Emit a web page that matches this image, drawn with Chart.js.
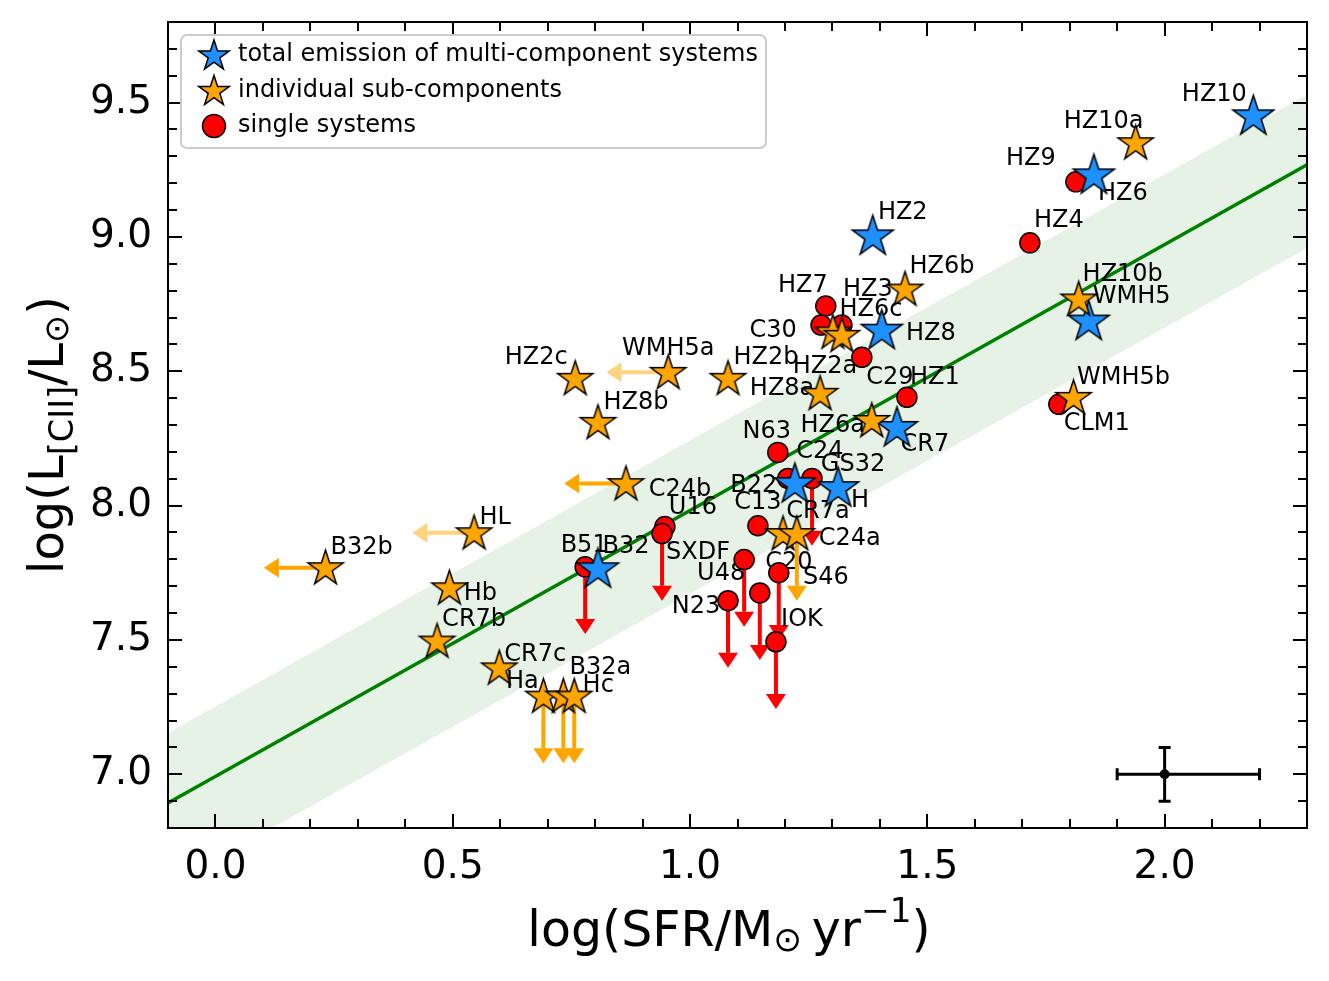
<!DOCTYPE html>
<html>
<head>
<meta charset="utf-8">
<script src="https://cdn.jsdelivr.net/npm/chart.js@4.4.1/dist/chart.umd.min.js"></script>
<style>
  body { margin: 0; background: #fff; }
  canvas { display: block; }
</style>
</head>
<body>
<canvas id="cii" width="1329" height="981"></canvas>
<script>
// multi-component systems (total emission)
const totalNames = ['HZ10', 'HZ6', 'HZ2', 'WMH5', 'HZ8', 'CR7', 'C24', 'H', 'B32'];
const totalX = [2.187, 1.851, 1.385, 1.840, 1.404, 1.436, 1.221, 1.312, 0.806];
const totalY = [9.451, 9.231, 9.004, 8.687, 8.653, 8.291, 8.082, 8.067, 7.765];

// individual sub-components
const subNames = ['HZ10a', 'HZ6b', 'HZ10b', 'HZ6c', 'HZ2a', 'WMH5a', 'HZ2c', 'HZ2b', 'HZ8a', 'HZ8b', 'WMH5b', 'HZ6a',
  'C24b', 'HL', 'CR7a', 'C24a', 'B32b', 'Hb', 'CR7b', 'CR7c', 'Ha', 'B32a', 'Hc'];
const subX = [1.939, 1.453, 1.819, 1.301, 1.320, 0.954, 0.758, 1.080, 1.274, 0.806, 1.808, 1.383,
  0.865, 0.545, 1.196, 1.225, 0.232, 0.493, 0.467, 0.598, 0.691, 0.733, 0.756];
const subY = [9.351, 8.806, 8.769, 8.646, 8.634, 8.496, 8.474, 8.474, 8.418, 8.310, 8.403, 8.317,
  8.082, 7.899, 7.896, 7.896, 7.769, 7.694, 7.496, 7.396, 7.291, 7.291, 7.291];
const subLimit = ['', '', '', '', '', 'leftFaint', '', '', '', '', '', '',
  'left', 'leftFaint', '', 'down', 'left', '', '', '', 'down', 'down', 'down'];

// single systems
const singleNames = ['HZ9', 'HZ4', 'HZ7', 'C30', 'HZ3', 'C29', 'HZ1', 'CLM1', 'N63', 'B22', 'GS32', 'U16',
  'SXDF', 'B51', 'C13', 'U48', 'C20', 'S46', 'N23', 'IOK'];
const singleX = [1.813, 1.716, 1.286, 1.276, 1.320, 1.362, 1.457, 1.777, 1.185, 1.206, 1.257, 0.947,
  0.941, 0.779, 1.143, 1.114, 1.187, 1.147, 1.080, 1.181];
const singleY = [9.205, 8.978, 8.743, 8.672, 8.672, 8.552, 8.403, 8.377, 8.198, 8.101, 8.101, 7.922,
  7.896, 7.772, 7.925, 7.799, 7.750, 7.675, 7.646, 7.493];
const singleLimit = ['', '', '', '', '', '', '', '', '', '', 'down', '',
  'down', 'down', '', 'down', 'down', 'down', 'down', 'down'];

// local relation and its scatter
const fitX = [-0.1, 2.3];
const fitY = [6.893, 9.269];
const bandUpper = [7.154, 9.530];
const bandLower = [6.583, 8.959];

// typical error bar
const errX = [2.0];
const errY = [7.0];
const errXLow = [0.1], errXHigh = [0.2];
const errYLow = [0.1], errYHigh = [0.1];

const xTicks = [0.0, 0.5, 1.0, 1.5, 2.0];
const yTicks = [7.0, 7.5, 8.0, 8.5, 9.0, 9.5];

// label placement (pixels from marker)
const totalLabelOff = [[-39, -21], [29, 19], [30, -23], [43, -24], [49, 4], [28, 17], [25, -32], [22, 13], [28, -22]];
const subLabelOff = [[-32, -21], [37, -22], [44, -24], [38, -22], [-17, 32], [0, -24], [-39, -20], [38, -20], [-38, -5],
  [38, -20], [50, -20], [-39, 5], [54, 6], [21, -15], [35, -22], [53, 5], [36, -20], [31, 6], [37, -21], [36, -13],
  [-21, -14], [37, -28], [24, -10]];
const singleLabelOff = [[-45, -23], [29, -22], [-23, -20], [-48, 6], [26, -35], [28, 20], [28, -20], [38, 19], [-11, -21],
  [-34, 7], [41, -14], [28, -19], [36, 19], [-1, -21], [0, -23], [-23, 14], [10, -10], [66, -15], [-32, 6], [26, -22]];

const DOWN_LEN = 0.25, LEFT_LEN = 0.13;
const BLUE = '#1e90ff', ORANGE = '#ffa500', RED = '#ff0000';
const FONT = "'DejaVu Sans', sans-serif";

function starPath(ctx, cx, cy, R) {
  const r = R * 0.381966;
  ctx.beginPath();
  for (let i = 0; i < 10; i++) {
    const a = -Math.PI / 2 + i * Math.PI / 5;
    const rad = i % 2 ? r : R;
    const px = cx + rad * Math.cos(a), py = cy + rad * Math.sin(a);
    i ? ctx.lineTo(px, py) : ctx.moveTo(px, py);
  }
  ctx.closePath();
}

function starImage(color, R) {
  const c = document.createElement('canvas');
  const s = Math.ceil(2 * R + 4);
  c.width = s; c.height = s;
  const g = c.getContext('2d');
  starPath(g, s / 2, s / 2 + 1, R);
  g.fillStyle = color; g.fill();
  g.lineWidth = 1.5; g.strokeStyle = '#000'; g.lineJoin = 'miter'; g.stroke();
  return c;
}

const pts = (xs, ys) => xs.map((x, i) => ({ x: x, y: ys[i] }));

function drawArrow(ctx, x0, y0, x1, y1, color) {
  const ang = Math.atan2(y1 - y0, x1 - x0);
  const hl = 15, hw = 10;
  const bx = x1 - hl * Math.cos(ang), by = y1 - hl * Math.sin(ang);
  ctx.strokeStyle = color; ctx.fillStyle = color; ctx.lineWidth = 4;
  ctx.beginPath(); ctx.moveTo(x0, y0); ctx.lineTo(bx, by); ctx.stroke();
  ctx.beginPath();
  ctx.moveTo(x1, y1);
  ctx.lineTo(bx + hw * Math.sin(ang), by - hw * Math.cos(ang));
  ctx.lineTo(bx - hw * Math.sin(ang), by + hw * Math.cos(ang));
  ctx.closePath(); ctx.fill();
}

// arrows + names, drawn just before the marker layers
const annotations = {
  id: 'annotations',
  beforeDatasetDraw(chart, args) {
    if (args.index !== 2) return;
    const { ctx, scales: { x, y } } = chart;
    ctx.save();
    const arrows = (xs, ys, lim, color) => xs.forEach((v, i) => {
      const l = lim[i];
      if (!l) return;
      const px = x.getPixelForValue(v), py = y.getPixelForValue(ys[i]);
      if (l === 'down') drawArrow(ctx, px, py, px, y.getPixelForValue(ys[i] - DOWN_LEN), color);
      else drawArrow(ctx, px, py, x.getPixelForValue(v - LEFT_LEN), py,
        l === 'leftFaint' ? 'rgba(255,165,0,0.5)' : color);
    });
    arrows(singleX, singleY, singleLimit, RED);
    arrows(subX, subY, subLimit, ORANGE);

    ctx.font = '24px ' + FONT;
    ctx.fillStyle = '#000';
    ctx.textAlign = 'center';
    ctx.textBaseline = 'middle';
    const names = (nm, xs, ys, off) => nm.forEach((n, i) => {
      ctx.fillText(n, x.getPixelForValue(xs[i]) + off[i][0], y.getPixelForValue(ys[i]) + off[i][1]);
    });
    names(singleNames, singleX, singleY, singleLabelOff);
    names(totalNames, totalX, totalY, totalLabelOff);
    names(subNames, subX, subY, subLabelOff);
    ctx.restore();
  }
};

function drawRuns(ctx, runs, size) {
  let w = 0;
  runs.forEach(r => { ctx.font = (size * r[1]) + 'px ' + FONT; w += ctx.measureText(r[0]).width; });
  let cx = -w / 2;
  runs.forEach(r => {
    ctx.font = (size * r[1]) + 'px ' + FONT;
    ctx.fillText(r[0], cx, -r[2] * size);
    cx += ctx.measureText(r[0]).width;
  });
}

const frame = {
  id: 'frame',
  afterDatasetsDraw(chart) {
    const { ctx, chartArea: a, scales: { x, y } } = chart;
    ctx.save();
    // typical uncertainty
    ctx.strokeStyle = '#000'; ctx.lineWidth = 3;
    errX.forEach((v, i) => {
      const px = x.getPixelForValue(v), py = y.getPixelForValue(errY[i]);
      const xl = x.getPixelForValue(v - errXLow[i]), xr = x.getPixelForValue(v + errXHigh[i]);
      const yt = y.getPixelForValue(errY[i] + errYHigh[i]), yb = y.getPixelForValue(errY[i] - errYLow[i]);
      ctx.beginPath();
      ctx.moveTo(xl, py); ctx.lineTo(xr, py);
      ctx.moveTo(px, yt); ctx.lineTo(px, yb);
      ctx.moveTo(xl, py - 6); ctx.lineTo(xl, py + 6);
      ctx.moveTo(xr, py - 6); ctx.lineTo(xr, py + 6);
      ctx.moveTo(px - 6, yt); ctx.lineTo(px + 6, yt);
      ctx.moveTo(px - 6, yb); ctx.lineTo(px + 6, yb);
      ctx.stroke();
    });

    // inward ticks on all sides
    ctx.lineWidth = 2;
    ctx.beginPath();
    for (let k = -1; k <= 23; k++) {
      const v = k / 10, px = Math.round(x.getPixelForValue(v));
      const len = k % 5 === 0 ? 14 : 9;
      ctx.moveTo(px, a.bottom); ctx.lineTo(px, a.bottom - len);
      ctx.moveTo(px, a.top); ctx.lineTo(px, a.top + len);
    }
    for (let k = 68; k <= 98; k++) {
      const v = k / 10, py = Math.round(y.getPixelForValue(v));
      const len = k % 5 === 0 ? 14 : 9;
      ctx.moveTo(a.left, py); ctx.lineTo(a.left + len, py);
      ctx.moveTo(a.right, py); ctx.lineTo(a.right - len, py);
    }
    ctx.stroke();
    ctx.strokeRect(a.left, a.top, a.right - a.left, a.bottom - a.top);

    // legend
    const lx = a.left + 13, ly = a.top + 13, lw = 585, lh = 113;
    ctx.beginPath();
    ctx.roundRect(lx, ly, lw, lh, 6);
    ctx.fillStyle = 'rgba(255,255,255,0.8)'; ctx.fill();
    ctx.strokeStyle = '#cccccc'; ctx.lineWidth = 2; ctx.stroke();
    const rows = [['total emission of multi-component systems', BLUE], ['individual sub-components', ORANGE], ['single systems', RED]];
    rows.forEach((r, i) => {
      const mx = a.left + 46, my = a.top + 33 + i * 35.5;
      ctx.lineWidth = 1.5; ctx.strokeStyle = '#000'; ctx.fillStyle = r[1];
      if (i < 2) starPath(ctx, mx, my + 1, 16);
      else { ctx.beginPath(); ctx.arc(mx, my, 11.5, 0, Math.PI * 2); }
      ctx.fill(); ctx.stroke();
      ctx.fillStyle = '#000'; ctx.font = '24px ' + FONT;
      ctx.textAlign = 'left'; ctx.textBaseline = 'middle';
      ctx.fillText(r[0], a.left + 70, my);
    });

    // axis titles
    ctx.fillStyle = '#000'; ctx.textAlign = 'left'; ctx.textBaseline = 'alphabetic';
    ctx.save();
    ctx.translate(729, 946);
    drawRuns(ctx, [['log(SFR/M', 1, 0], ['\u2299', 0.7, -0.1], ['\u2009yr', 1, 0], ['\u22121', 0.7, 0.5], [')', 1, 0]], 49);
    ctx.restore();
    ctx.save();
    ctx.translate(63, 435);
    ctx.rotate(-Math.PI / 2);
    drawRuns(ctx, [['log(L', 1, 0], ['[CII]', 0.7, -0.2], ['/L', 1, 0], ['\u2299', 0.7, -0.1], [')', 1, 0]], 48);
    ctx.restore();
    ctx.restore();
  }
};

new Chart(document.getElementById('cii'), {
  type: 'scatter',
  data: {
    datasets: [
      { label: 'total emission of multi-component systems', data: pts(totalX, totalY), order: 2,
        pointStyle: starImage(BLUE, 21.5), pointRadius: 21 },
      { label: 'individual sub-components', data: pts(subX, subY), order: 1,
        pointStyle: starImage(ORANGE, 18.5), pointRadius: 18 },
      { label: 'single systems', data: pts(singleX, singleY), order: 3,
        pointStyle: 'circle', pointRadius: 10, backgroundColor: RED, borderColor: '#000', borderWidth: 1.5 },
      { label: 'typical error', data: pts(errX, errY), order: 4,
        pointRadius: 5, backgroundColor: '#000', borderColor: '#000', borderWidth: 0 },
      { label: 'relation', data: pts(fitX, fitY), order: 5, showLine: true,
        borderColor: '#008000', borderWidth: 3.5, pointRadius: 0 },
      { label: 'upper', data: pts(fitX, bandUpper), order: 6, showLine: true, fill: '+1',
        backgroundColor: 'rgba(0,128,0,0.1)', borderWidth: 0, borderColor: 'rgba(0,0,0,0)', pointRadius: 0 },
      { label: 'lower', data: pts(fitX, bandLower), order: 7, showLine: true,
        borderWidth: 0, borderColor: 'rgba(0,0,0,0)', pointRadius: 0 }
    ]
  },
  options: {
    responsive: false,
    animation: false,
    events: [],
    layout: { padding: { top: 20, right: 22, left: 0, bottom: 0 } },
    plugins: { legend: { display: false }, tooltip: { enabled: false } },
    scales: {
      x: {
        type: 'linear', min: -0.1, max: 2.3,
        afterBuildTicks: s => { s.ticks = xTicks.map(v => ({ value: v })); },
        afterFit: s => { s.height = 153; s.paddingLeft = 0; s.paddingRight = 0; },
        grid: { display: false, drawTicks: false },
        border: { display: false },
        ticks: { padding: 16, color: '#000', font: { family: FONT, size: 39 }, callback: v => v.toFixed(1) }
      },
      y: {
        type: 'linear', min: 6.8, max: 9.8,
        afterBuildTicks: s => { s.ticks = yTicks.map(v => ({ value: v })); },
        afterFit: s => { s.width = 168; s.paddingTop = 0; s.paddingBottom = 0; },
        grid: { display: false, drawTicks: false },
        border: { display: false },
        ticks: { padding: 16, color: '#000', font: { family: FONT, size: 39 }, callback: v => v.toFixed(1) }
      }
    }
  },
  plugins: [annotations, frame]
});
</script>
</body>
</html>
